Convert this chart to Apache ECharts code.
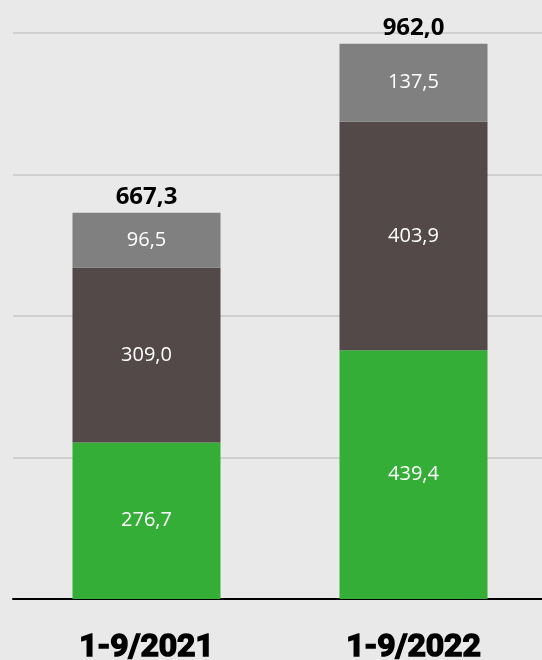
<!DOCTYPE html>
<html>
<head>
<meta charset="utf-8">
<script src="https://cdn.jsdelivr.net/npm/echarts@6/dist/echarts.min.js"></script>
<style>
  html, body { margin: 0; padding: 0; background: #e9e9e9; }
  #chart { width: 542px; height: 660px; }
</style>
</head>
<body>
<div id="chart"></div>
<script>
// data
const periods = ['1-9/2021', '1-9/2022']
const greenPart = [276.7, 439.4]
const darkPart = [309.0, 403.9]
const greyPart = [96.5, 137.5]
const totals = [667.3, 962.0]
const yTicks = [0, 250, 500, 750, 1000]

// comma as decimal separator
function fmt(v) {
  return v.toFixed(1).replace('.', ',')
}

const innerLabel = {
  show: true,
  position: 'inside',
  color: '#ffffff',
  fontSize: 20,
  fontFamily: 'Open Sans',
  formatter: p => fmt(p.value)
}

const myChart = echarts.init(document.getElementById('chart'))
const option = {
  backgroundColor: '#e9e9e9',
  animation: false,
  grid: {
    left: 13,
    right: -5,
    top: 33,
    bottom: 61,
    outerBoundsMode: 'none'
  },
  xAxis: {
    type: 'category',
    data: periods,
    axisTick: { show: false },
    axisLine: { lineStyle: { color: '#000000', width: 2 } },
    axisLabel: {
      margin: 33,
      color: '#000000',
      fontSize: 32,
      fontWeight: 'bold',
      fontFamily: 'Roboto',
      textBorderColor: '#000000',
      textBorderWidth: 1.5
    }
  },
  yAxis: {
    type: 'value',
    min: yTicks[0],
    max: yTicks[yTicks.length - 1],
    interval: 250,
    axisLabel: { show: false },
    axisLine: { show: false },
    axisTick: { show: false },
    splitLine: { lineStyle: { color: '#c6c6c6', width: 1.5 } }
  },
  series: [
    {
      name: 'green',
      type: 'bar',
      stack: 'all',
      barWidth: 148,
      data: greenPart,
      itemStyle: { color: '#34ae37' },
      label: innerLabel
    },
    {
      name: 'dark',
      type: 'bar',
      stack: 'all',
      data: darkPart,
      itemStyle: { color: '#534949' },
      label: innerLabel
    },
    {
      name: 'grey',
      type: 'bar',
      stack: 'all',
      data: greyPart,
      itemStyle: { color: '#808080' },
      label: innerLabel
    },
    {
      name: 'total',
      type: 'bar',
      stack: 'all',
      data: totals.map(() => 0),
      itemStyle: { color: 'transparent' },
      label: {
        show: true,
        position: 'top',
        distance: 4,
        color: '#000000',
        fontSize: 24,
        fontWeight: 'bold',
        fontFamily: 'Open Sans',
        formatter: p => fmt(totals[p.dataIndex])
      }
    }
  ]
}
myChart.setOption(option)
</script>
</body>
</html>
